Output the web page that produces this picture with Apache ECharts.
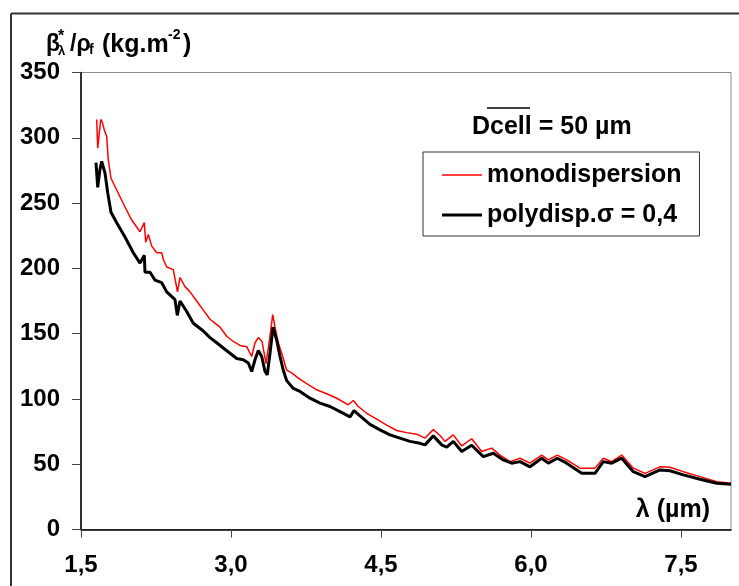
<!DOCTYPE html>
<html>
<head>
<meta charset="utf-8">
<script src="https://cdn.jsdelivr.net/npm/echarts@6/dist/echarts.min.js"></script>
<style>
html,body{margin:0;padding:0;background:#fff;}
#chart{width:739px;height:586px;}
</style>
</head>
<body>
<div id="chart"></div>
<script>
// ---- data ----
const xTickLabels = [1.5, 3.0, 4.5, 6.0, 7.5];
const yTickLabels = [0, 50, 100, 150, 200, 250, 300, 350];

const seriesNames = ['monodispersion', 'polydisp.\u03c3 = 0,4'];

const lambdaMono = [1.657,1.667,1.697,1.713,1.733,1.757,1.773,1.80,1.857,1.94,2.007,2.09,2.133,2.147,2.173,2.207,2.257,2.307,2.323,2.357,2.423,2.465,2.49,2.54,2.59,2.657,2.723,2.79,2.823,2.89,2.957,3.023,3.09,3.157,3.207,3.24,3.273,3.31,3.35,3.39,3.417,3.44,3.473,3.507,3.557,3.607,3.69,3.773,3.857,3.957,4.057,4.173,4.223,4.273,4.357,4.457,4.557,4.657,4.757,4.857,4.94,5.023,5.09,5.14,5.223,5.307,5.407,5.507,5.607,5.69,5.79,5.89,5.99,6.107,6.173,6.263,6.357,6.49,6.64,6.723,6.807,6.907,7.023,7.14,7.29,7.39,7.523,7.69,7.857,8.0];
const valuesMono = [314,292,314,312,306,301,283,269,260,247,237,228,235,220,226,217,212,212,207,201,199,182,193,186,182,175,168,161,159,155,148,144,141,140,132.5,143,147,144,127,148,164.5,155,143,135,122,120,115,111,107,104,100.5,95.5,98.8,94.2,89,84.5,80,75.8,74.2,73,70,76.5,72,67.5,72.5,64,69.5,59.7,62.3,57,52,54.6,50.8,57,53.3,57,53.3,47,47,54.6,52,57,47,43,48,47.7,44.3,40.5,36.6,35.4];

const lambdaPoly = [1.65,1.667,1.69,1.707,1.74,1.767,1.80,1.857,1.94,2.023,2.09,2.133,2.14,2.19,2.24,2.307,2.357,2.44,2.463,2.49,2.557,2.623,2.723,2.79,2.857,2.923,2.99,3.057,3.123,3.173,3.207,3.24,3.273,3.307,3.34,3.363,3.39,3.42,3.457,3.49,3.523,3.557,3.623,3.69,3.79,3.89,3.99,4.09,4.19,4.23,4.29,4.39,4.49,4.59,4.69,4.79,4.89,4.94,5.023,5.107,5.157,5.223,5.307,5.407,5.523,5.623,5.723,5.807,5.89,5.99,6.107,6.173,6.263,6.357,6.507,6.64,6.723,6.807,6.907,7.023,7.14,7.29,7.39,7.523,7.69,7.857,8.0];
const valuesPoly = [281,262,276,282,273,258,243,235,224,212,204,210,197,197,191,189,182,176,164,175,167,158,152,147,143,139,135,131,130,127.5,121,130,137,132.5,121,118.5,135,155,145,132.5,122,114,108,105.7,100.6,96.8,94.2,90.3,86.3,91,87,80.5,76.3,72.5,70,67.5,66,64.8,71.7,64.8,63,67.5,59.7,64.5,55.8,58.4,53.3,50.8,52,48,54.6,50.8,54.6,50.8,43,43,52,50.8,54.6,44.3,40.5,45.6,45,41.8,38.5,35.4,34.7];

const zip = (xs, ys) => xs.map((x, i) => [x, ys[i]]);
const FONT = '"Liberation Sans", Arial, sans-serif';

const chart = echarts.init(document.getElementById('chart'), null, {renderer: 'canvas'});

const txt = (x, y, text, size, opts) => Object.assign({
  type: 'text', x: x, y: y, silent: true,
  style: Object.assign({text: text, font: 'bold ' + size + 'px ' + FONT, fill: '#000',
    textAlign: 'left', textVerticalAlign: 'middle'}, opts || {})
});

chart.setOption({
  animation: false,
  backgroundColor: '#fff',
  grid: {left: 81, right: 8, top: 72.5, bottom: 56.5, show: true, borderColor: '#8c8c8c', borderWidth: 1},
  xAxis: {
    type: 'value', min: 1.5, max: 8.0, interval: 1.5,
    axisLine: {onZero: false, lineStyle: {color: '#000', width: 1.5}},
    axisTick: {show: true, length: 8, lineStyle: {color: '#444'}, customValues: xTickLabels},
    axisLabel: {customValues: xTickLabels, margin: 24, color: '#000', fontFamily: FONT, fontWeight: 'bold', fontSize: 24,
      formatter: v => v.toFixed(1).replace('.', ',')},
    splitLine: {show: false}
  },
  yAxis: {
    type: 'value', min: 0, max: 350, interval: 50,
    axisLine: {show: true, lineStyle: {color: '#000', width: 1.5}},
    axisTick: {show: true, length: 9, lineStyle: {color: '#444'}},
    axisLabel: {margin: 21, color: '#000', fontFamily: FONT, fontWeight: 'bold', fontSize: 24, padding: [6, 0, 0, 0]},
    splitLine: {show: false}
  },
  legend: {
    orient: 'vertical', left: 423, top: 152,
    data: [
      {name: seriesNames[0], icon: 'path://M0,0L40,0L40,1.5L0,1.5Z', itemStyle: {color: '#ff0000'}},
      {name: seriesNames[1], icon: 'path://M0,0L40,0L40,3L0,3Z', itemStyle: {color: '#000'}}
    ],
    itemWidth: 40, itemHeight: 14, itemGap: 10,
    padding: [8, 18, 6, 19],
    borderColor: '#333', borderWidth: 1, backgroundColor: '#fff',
    textStyle: {fontFamily: FONT, fontWeight: 'bold', fontSize: 25, color: '#000', lineHeight: 30},
    selectedMode: false
  },
  series: [
    {name: seriesNames[0], type: 'line', data: zip(lambdaMono, valuesMono), symbol: 'none',
      lineStyle: {color: '#ff0000', width: 1.5}, itemStyle: {color: '#ff0000'}},
    {name: seriesNames[1], type: 'line', data: zip(lambdaPoly, valuesPoly), symbol: 'none',
      lineStyle: {color: '#000', width: 3}, itemStyle: {color: '#000'}}
  ],
  graphic: [
    {type: 'line', silent: true, shape: {x1: 11, y1: 13.5, x2: 739, y2: 13.5}, style: {stroke: '#333', lineWidth: 2}},
    {type: 'line', silent: true, shape: {x1: 11, y1: 13.5, x2: 11, y2: 586}, style: {stroke: '#333', lineWidth: 2}},
    // axis title
    txt(46, 45, '\u03b2', 23),
    txt(58, 37, '*', 16),
    txt(58, 51, '\u03bb', 13),
    txt(70, 45, '/\u03c1', 23),
    txt(89, 50, 'f', 14),
    txt(102, 45, '(kg.m', 25),
    txt(168, 35, '-2', 14),
    txt(183, 45, ')', 25),
    // x axis name
    txt(710, 510, '\u03bb (\u00b5m)', 25, {textAlign: 'right'}),
    // annotation
    txt(472, 127, 'Dcell = 50 \u00b5m', 25),
    {type: 'line', silent: true, shape: {x1: 487, y1: 108, x2: 530, y2: 108}, style: {stroke: '#000', lineWidth: 1.5}}
  ]
});
</script>
</body>
</html>
